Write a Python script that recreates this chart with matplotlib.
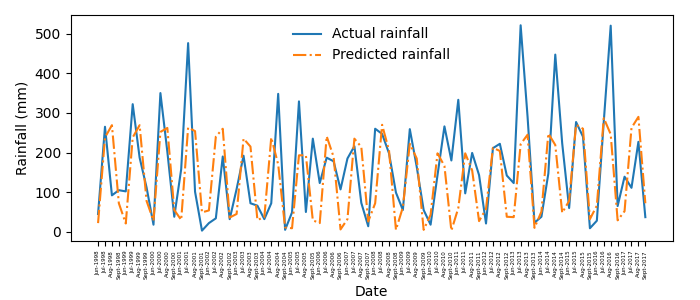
import matplotlib
matplotlib.use("Agg")
import matplotlib.pyplot as plt

# monsoon months, Jun-Sept 1998..2017
months = ["Jun", "Jul", "Aug", "Sept"]
years = list(range(1998, 2018))
dates = [f"{m}-{y}" for y in years for m in months]

actual = [
    45, 265, 92, 105, 102, 322, 187, 112, 18, 350,
    202, 38, 158, 476, 101, 3, 22, 34, 190, 32,
    108, 192, 72, 66, 32, 72, 348, 5, 49, 329,
    50, 235, 123, 187, 178, 107, 185, 216, 73, 14,
    260, 247, 198, 99, 55, 259, 164, 55, 18, 143,
    266, 180, 333, 97, 199, 143, 21, 211, 222, 142,
    123, 521, 290, 23, 38, 147, 447, 223, 60, 277,
    240, 9, 28, 278, 520, 65, 139, 111, 227, 37,
]

predicted = [
    22, 238, 269, 72, 21, 238, 269, 78, 28, 252,
    262, 55, 30, 263, 254, 49, 54, 240, 260, 36,
    45, 235, 215, 30, 37, 238, 170, 11, 9, 193,
    193, 29, 22, 241, 189, 6, 32, 235, 214, 26,
    72, 270, 205, 5, 62, 222, 185, 5, 43, 198,
    166, 3, 60, 198, 155, 27, 58, 212, 204, 38,
    37, 221, 245, 10, 51, 248, 219, 48, 78, 270,
    260, 32, 66, 287, 246, 29, 52, 262, 290, 72,
]

fig, ax = plt.subplots(figsize=(7, 3), dpi=100)
ax.plot(dates, actual, label="Actual rainfall")
ax.plot(dates, predicted, linestyle="-.", label="Predicted rainfall")

ax.set_xlabel("Date")
ax.set_ylabel("Rainfall (mm)")
ax.tick_params(axis="x", labelrotation=90, labelsize=4)
ax.legend(loc="upper center", frameon=False)

fig.subplots_adjust(left=0.101, right=0.961, top=0.95, bottom=0.197)
fig.savefig("out.png")
plt.close(fig)
